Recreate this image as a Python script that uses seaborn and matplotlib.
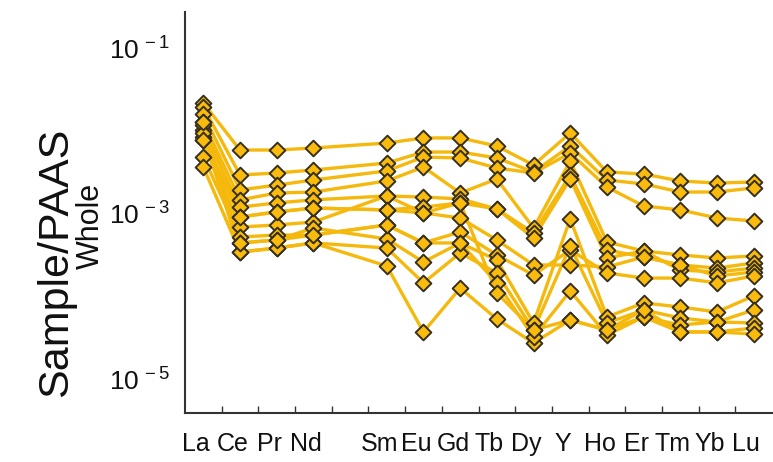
import matplotlib
matplotlib.use("Agg")
import matplotlib.pyplot as plt
from matplotlib.ticker import FixedLocator, NullFormatter
import seaborn as sns
import pandas as pd
import numpy as np

# ---- data -------------------------------------------------------------
elements = ["La", "Ce", "Pr", "Nd", "Pm", "Sm", "Eu", "Gd", "Tb", "Dy", "Y",
            "Ho", "Er", "Tm", "Yb", "Lu"]
tick_labels = ["La", "Ce", "Pr", "Nd", "", "Sm", "Eu", "Gd", "Tb", "Dy", "Y",
               "Ho", "Er", "Tm", "Yb", "Lu"]
measured = ["La", "Ce", "Pr", "Nd", "Sm", "Eu", "Gd", "Tb", "Dy", "Y",
            "Ho", "Er", "Tm", "Yb", "Lu"]

s1 = [2.17e-2, 5.90e-3, 5.90e-3, 6.24e-3, 7.16e-3, 8.25e-3, 8.25e-3, 6.59e-3, 3.89e-3, 9.46e-3, 3.21e-3, 3.03e-3, 2.50e-3, 2.36e-3, 2.43e-3]
s2 = [1.95e-2, 2.95e-3, 3.12e-3, 3.39e-3, 4.11e-3, 5.58e-3, 5.58e-3, 4.73e-3, 3.21e-3, 6.59e-3, 2.57e-3, 2.30e-3, 1.84e-3, 1.84e-3, 2.06e-3]
s3 = [1.60e-2, 1.95e-3, 2.23e-3, 2.57e-3, 3.30e-3, 4.86e-3, 4.73e-3, 3.58e-3, 3.12e-3, 5.43e-3, 2.11e-3, 1.25e-3, 1.12e-3, 8.95e-4, 8.24e-4]
m1 = [1.28e-2, 1.48e-3, 1.79e-3, 1.84e-3, 2.50e-3, 3.68e-3, 1.79e-3, 2.64e-3, 6.78e-4, 4.36e-3, 4.60e-4, 3.58e-4, 3.21e-4, 2.95e-4, 3.12e-4]
m2 = [1.03e-2, 1.21e-3, 1.36e-3, 1.48e-3, 1.65e-3, 1.60e-3, 1.52e-3, 1.15e-3, 5.90e-4, 2.95e-3, 3.68e-4, 3.03e-4, 2.43e-4, 2.23e-4, 2.57e-4]
m3 = [8.47e-3, 9.20e-4, 1.06e-3, 1.18e-3, 1.12e-3, 1.21e-3, 1.36e-3, 1.15e-3, 5.14e-4, 2.64e-3, 2.95e-4, 3.58e-4, 2.11e-4, 2.00e-4, 2.23e-4]
m4 = [7.80e-3, 6.97e-4, 7.37e-4, 8.01e-4, 1.65e-3, 1.03e-3, 8.95e-4, 4.86e-4, 2.43e-4, 2.43e-4, 2.30e-4, 3.03e-4, 2.43e-4, 1.79e-4, 2.00e-4]
m5 = [4.86e-3, 5.28e-4, 5.58e-4, 5.58e-4, 7.37e-4, 4.48e-4, 6.07e-4, 3.21e-4, 1.84e-4, 3.68e-4, 1.95e-4, 1.69e-4, 1.69e-4, 1.48e-4, 1.79e-4]
b1 = [1.18e-2, 4.48e-4, 4.86e-4, 6.78e-4, 5.00e-4, 2.64e-4, 4.48e-4, 2.79e-4, 4.86e-5, 8.71e-4, 5.74e-5, 8.47e-5, 7.58e-5, 6.59e-5, 1.03e-4]
b2 = [9.46e-3, 3.48e-4, 3.89e-4, 4.48e-4, 3.89e-4, 1.48e-4, 3.39e-4, 1.95e-4, 4.00e-5, 4.11e-4, 4.86e-5, 6.97e-5, 5.58e-5, 5.00e-5, 6.97e-5]
b3 = [3.68e-3, 3.48e-4, 3.89e-4, 4.48e-4, 2.36e-4, 3.79e-5, 1.28e-4, 5.43e-5, 2.79e-5, 5.28e-5, 4.00e-5, 5.74e-5, 4.60e-5, 5.00e-5, 4.86e-5]
b4 = [7.80e-3, 4.48e-4, 4.86e-4, 5.58e-4, 7.37e-4, 4.48e-4, 4.48e-4, 1.48e-4, 3.30e-5, 1.18e-4, 3.48e-5, 5.74e-5, 3.79e-5, 3.79e-5, 4.23e-5]
b5 = [1.28e-2, 9.20e-4, 1.06e-3, 1.18e-3, 1.12e-3, 1.03e-3, 1.36e-3, 1.12e-4, 4.00e-5, 5.28e-5, 4.00e-5, 6.97e-5, 3.79e-5, 3.79e-5, 3.58e-5]

samples = {"S1": s1, "S2": s2, "S3": s3, "M1": m1, "M2": m2, "M3": m3,
           "M4": m4, "M5": m5, "B1": b1, "B2": b2, "B3": b3, "B4": b4, "B5": b5}

y_ticks = [1e-5, 1e-3, 1e-1]
y_tick_labels = [r"$10^{\,-5}$", r"$10^{\,-3}$", r"$10^{\,-1}$"]

# ---- long table -------------------------------------------------------
rows = []
for name, vals in samples.items():
    for el, v in zip(measured, vals):
        rows.append({"sample": name, "pos": elements.index(el), "value": v})
df = pd.DataFrame(rows)

# ---- style ------------------------------------------------------------
sns.set_theme(style="white")
plt.rcParams["font.family"] = ["Liberation Sans", "DejaVu Sans"]
plt.rcParams["mathtext.fontset"] = "custom"
plt.rcParams["mathtext.rm"] = "Liberation Sans"
plt.rcParams["mathtext.it"] = "Liberation Sans"
plt.rcParams["mathtext.bf"] = "Liberation Sans"
plt.rcParams["mathtext.sf"] = "Liberation Sans"

line_color = "#F5B90E"
face_color = "#FABB0C"
edge_color = "#35301f"

fig = plt.figure(figsize=(7.73, 4.62), dpi=100)
ax = fig.add_axes([185 / 773, 49 / 462, 587 / 773, 401 / 462])

sns.lineplot(data=df, x="pos", y="value", units="sample", estimator=None,
             color=line_color, linewidth=2.4, ax=ax, legend=False, sort=True)
sns.scatterplot(data=df, x="pos", y="value", marker="D", s=64,
                color=face_color, edgecolor=edge_color, linewidth=1.4,
                ax=ax, legend=False, zorder=5)

ax.set_yscale("log")
ax.set_ylim(10 ** -5.398, 10 ** -0.566)
ax.set_xlim(-0.5, len(elements) - 0.5)

# y ticks
ax.yaxis.set_major_locator(FixedLocator(y_ticks))
ax.set_yticklabels(y_tick_labels)
ax.yaxis.set_minor_locator(FixedLocator([1e-3]))
ax.yaxis.set_minor_formatter(NullFormatter())
ax.tick_params(axis="y", which="major", length=0, pad=11, labelsize=19,
               labelcolor="#111111")
ax.tick_params(axis="y", which="minor", length=6, width=1.2, direction="in",
               color="#333333", left=True)

# x ticks: labels at category centres, tick marks at boundaries
ax.xaxis.set_major_locator(FixedLocator([i - 0.2 for i in range(len(elements))]))
ax.set_xticklabels(tick_labels)
ax.xaxis.set_minor_locator(FixedLocator([i + 0.5 for i in range(len(elements) - 1)]))
ax.xaxis.set_minor_formatter(NullFormatter())
ax.tick_params(axis="x", which="major", length=0, pad=14, labelsize=18,
               labelcolor="#111111")
ax.tick_params(axis="x", which="minor", length=5, width=1.0, direction="in",
               color="#333333", bottom=True)

ax.set_xlabel("")
ax.set_ylabel("")

for side in ["top", "right"]:
    ax.spines[side].set_visible(False)
for side in ["left", "bottom"]:
    ax.spines[side].set_color("#333333")
    ax.spines[side].set_linewidth(1.5)

fig.text(56 / 773, 1 - 262 / 462, "Sample/PAAS", rotation=90, fontsize=31,
         ha="center", va="center", color="#111111")
fig.text(91 / 773, 1 - 226 / 462, "Whole", rotation=90, fontsize=22,
         ha="center", va="center", color="#111111")

fig.savefig("out.png", dpi=100, facecolor="white")
